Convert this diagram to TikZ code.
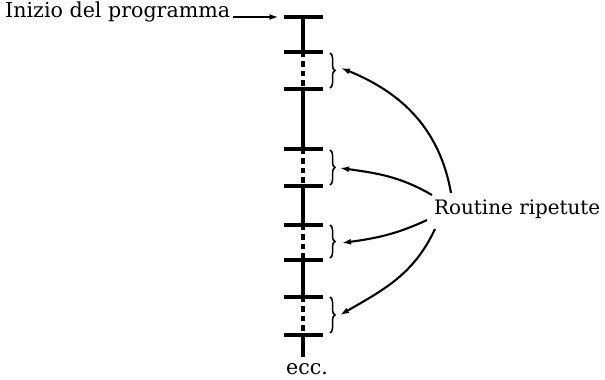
\documentclass[tikz,border=0pt]{standalone}
\usepackage{fontspec}
\setmainfont{DejaVu Serif}
\usetikzlibrary{arrows.meta,decorations.pathreplacing}
\begin{document}
\begin{tikzpicture}[x=1pt,y=1pt,
  tick/.style={minimum width=39pt,minimum height=0pt,inner sep=0pt,outer sep=0pt},
  tk/.style={line width=3.4pt},
  solidseg/.style={line width=3.4pt},
  dashseg/.style={line width=3.4pt,dash pattern=on 5.5pt off 4pt},
  brc/.style={decorate,decoration={brace,amplitude=5pt},line width=1.5pt},
  arr/.style={line width=2.1pt,-{Latex[length=9pt,width=6pt]}},
  lbl/.style={inner sep=0pt,anchor=base west,font=\fontsize{20.6}{24}\selectfont}]
\useasboundingbox (0,0) rectangle (605,380);
% ticks
\foreach \n/\yy in {1/363,2/328,3/291,4/231,5/194,6/155,7/120,8/83,9/45}{
  \node[tick] (t\n) at (303,\yy) {};
  \draw[tk] (t\n.west) -- (t\n.east);
}
\coordinate (spend) at (303,23);
% spine
\draw[solidseg] (t1.center) -- (t2.center);
\draw[dashseg] (t2.center) -- (t3.center);
\draw[solidseg] (t3.center) -- (t4.center);
\draw[dashseg] (t4.center) -- (t5.center);
\draw[solidseg] (t5.center) -- (t6.center);
\draw[dashseg] (t6.center) -- (t7.center);
\draw[solidseg] (t7.center) -- (t8.center);
\draw[dashseg] (t8.center) -- (t9.center);
\draw[solidseg] (t9.center) -- (spend);
% braces
\draw[brc] (330,327) -- (330,292);
\draw[brc] (330,230) -- (330,195);
\draw[brc] (330,155) -- (330,122);
\draw[brc] (330,83) -- (330,47);
% labels
\node[lbl] (inizio) at (5,362) {Inizio del programma};
\node[lbl,font=\fontsize{19.9}{24}\selectfont] (routine) at (434,165) {Routine ripetute};
\node[lbl] (ecc) at (286,5) {ecc.};
\draw[arr] ([shift={(3pt,1pt)}]inizio.base east) -- ([xshift=-5pt]t1.west);
% arrows
\coordinate (s1) at (451,187);
\coordinate (s2) at (432,185);
\coordinate (s3) at (427,160);
\coordinate (s4) at (435,151);
\coordinate (e1) at (341,312);
\coordinate (e2) at (340,212);
\coordinate (e3) at (342,137);
\coordinate (e4) at (340,65);
\draw[arr] (s1) to[out=100,in=-22] (e1);
\draw[arr] (s2) to[out=150,in=-8] (e2);
\draw[arr] (s3) to[out=205,in=8] (e3);
\draw[arr] (s4) to[out=245,in=30] (e4);
\end{tikzpicture}
\end{document}
